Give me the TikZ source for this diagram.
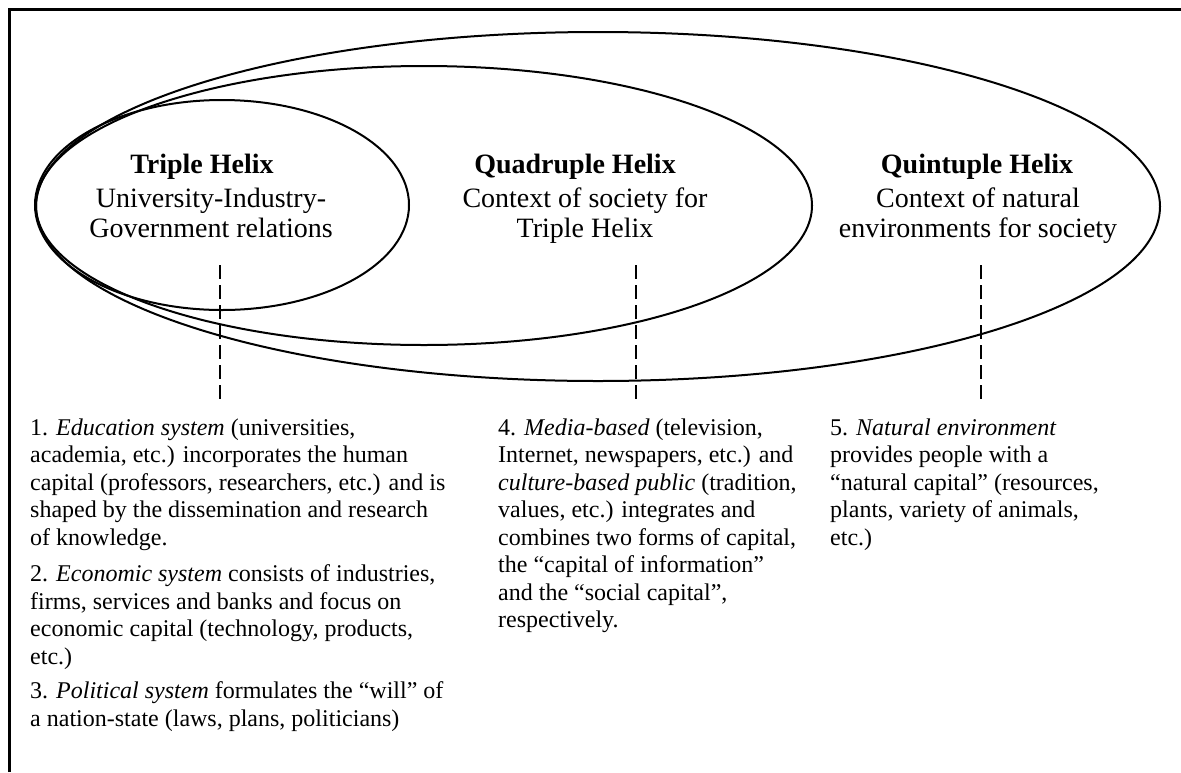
\documentclass[tikz,border=0pt]{standalone}
\usepackage{fontspec}
\setmainfont{Liberation Serif}
\begin{document}
\begin{tikzpicture}[x=1pt,y=-1pt,
  helix/.style={line width=2pt},
  guide/.style={line width=1.6pt, dash pattern=on 14pt off 6pt},
  frame/.style={line width=3pt},
  headtitle/.style={inner sep=0pt, anchor=base, align=center, font=\fontsize{28}{30}\selectfont\bfseries},
  headsub/.style={inner sep=0pt, anchor=base, align=center, font=\fontsize{28}{30}\selectfont},
  body/.style={inner sep=0pt, anchor=base west, align=left, font=\fontsize{24}{27.5}\selectfont},
]
\useasboundingbox (0,0) rectangle (1181,772);

% frame (top and left edges)
\draw[frame] (9.5,772) -- (9.5,9.5) -- (1181,9.5);

% nested helix ellipses
\draw[helix] (598,206.5) ellipse [x radius=562, y radius=174.5];
\draw[helix] (424,205.5) ellipse [x radius=388, y radius=139.5];
\draw[helix] (222,205) ellipse [x radius=187, y radius=105];

% ellipse headings (anchored on the baseline of the last line)
\node[headtitle] (tripleT) at (202,173) {Triple Helix};
\node[headsub]   (tripleS) at (211,237) {University-Industry-\\Government relations};
\node[headtitle] (quadT)   at (575,173) {Quadruple Helix};
\node[headsub]   (quadS)   at (585,237) {Context of society for\\Triple Helix};
\node[headtitle] (quintT)  at (977,173) {Quintuple Helix};
\node[headsub]   (quintS)  at (978,237) {Context of natural\\environments for society};

% dashed guides down to the descriptions
\coordinate (g1a) at (220,265); \coordinate (g1b) at (220,403);
\coordinate (g2a) at (636,265); \coordinate (g2b) at (636,403);
\coordinate (g3a) at (981,265); \coordinate (g3b) at (981,403);
\draw[guide] (g1a) -- (g1b);
\draw[guide] (g2a) -- (g2b);
\draw[guide] (g3a) -- (g3b);

% descriptions (anchored on the baseline of the last line)
\node[body] (edu) at (30,545) {1. \textit{Education system} (universities,\\academia, etc.) incorporates the human\\capital (professors, researchers, etc.) and is\\shaped by the dissemination and research\\of knowledge.};
\node[body] (eco) at (30,664) {2. \textit{Economic system} consists of industries,\\firms, services and banks and focus on\\economic capital (technology, products,\\etc.)};
\node[body] (pol) at (30,726) {3. \textit{Political system} formulates the “will” of\\a nation-state (laws, plans, politicians)};
\node[body] (media) at (498,627.5) {4. \textit{Media-based} (television,\\Internet, newspapers, etc.) and\\\textit{culture-based public} (tradition,\\values, etc.) integrates and\\combines two forms of capital,\\the “capital of information”\\and the “social capital”,\\respectively.};
\node[body] (nat) at (830,545) {5. \textit{Natural environment}\\provides people with a\\“natural capital” (resources,\\plants, variety of animals,\\etc.)};
\end{tikzpicture}
\end{document}
